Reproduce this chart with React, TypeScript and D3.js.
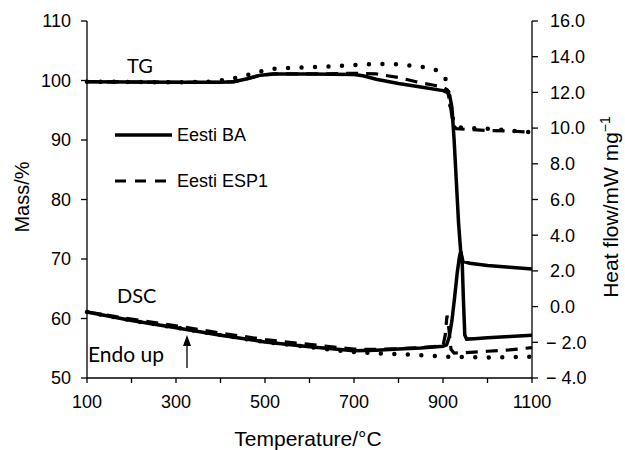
import React from "react";
import * as d3 from "d3";

const width = 625;
const height = 450;

// TG curves (mass %)
const tgBaT = [100, 200, 300, 400, 430, 460, 490, 520, 600, 700, 720, 750, 800, 850, 900, 910, 915, 920, 925, 930, 935, 940, 945, 960, 1000, 1050, 1100];
const tgBa = [99.8, 99.75, 99.7, 99.7, 99.8, 100.3, 100.9, 101.1, 101.1, 101.0, 100.8, 100.2, 99.5, 98.9, 98.3, 98.0, 97.5, 95.5, 90, 83, 76, 71, 69.6, 69.3, 68.9, 68.6, 68.3];

const tgEspT = [100, 200, 300, 400, 430, 460, 490, 520, 600, 700, 750, 800, 850, 880, 900, 910, 915, 920, 925, 930, 950, 1000, 1050, 1100];
const tgEsp = [99.8, 99.75, 99.7, 99.7, 99.8, 100.3, 100.9, 101.1, 101.1, 101.2, 101.1, 100.5, 99.6, 99.2, 98.9, 98.4, 96.5, 94, 92.3, 91.9, 91.8, 91.6, 91.5, 91.3];

const tgDotT = [100, 200, 300, 380, 420, 450, 480, 510, 550, 600, 650, 700, 750, 800, 830, 860, 880, 895, 905, 912, 920, 930, 950, 1000, 1050, 1100];
const tgDot = [99.8, 99.75, 99.7, 99.8, 100.2, 100.7, 101.3, 101.9, 102.1, 102.2, 102.4, 102.6, 102.8, 102.7, 102.5, 102.2, 101.9, 101.3, 100.5, 98, 94, 92.2, 92.0, 91.9, 91.6, 91.3];

// DSC curves (heat flow mW/mg)
const dscBaT = [100, 200, 300, 400, 500, 600, 700, 750, 800, 850, 900, 908, 914, 920, 926, 932, 937, 940, 943, 946, 949, 953, 970, 1000, 1050, 1100];
const dscBa = [-0.3, -0.78, -1.18, -1.6, -1.98, -2.25, -2.47, -2.45, -2.38, -2.32, -2.22, -2.15, -1.7, -0.8, 0.5, 1.9, 2.8, 3.1, 2.6, 0.3, -1.6, -1.82, -1.8, -1.75, -1.68, -1.6];

const dscEspT = [100, 200, 300, 400, 500, 600, 700, 750, 800, 850, 900, 905, 909, 913, 918, 925, 950, 1000, 1050, 1100];
const dscEsp = [-0.3, -0.7, -1.08, -1.48, -1.85, -2.12, -2.38, -2.4, -2.36, -2.3, -2.2, -1.6, -0.5, -1.2, -2.4, -2.6, -2.58, -2.5, -2.42, -2.3];

const dscDotT = [100, 200, 300, 400, 500, 600, 650, 700, 750, 800, 850, 900, 950, 1000, 1050, 1100];
const dscDot = [-0.3, -0.78, -1.18, -1.6, -1.98, -2.27, -2.42, -2.55, -2.62, -2.66, -2.72, -2.8, -2.83, -2.85, -2.83, -2.8];

const xTicks = [100, 200, 300, 400, 500, 600, 700, 800, 900, 1000, 1100];
const xLabels = [100, 300, 500, 700, 900, 1100];
const massTicks = [50, 60, 70, 80, 90, 100, 110];
const heatTicks = [-4, -2, 0, 2, 4, 6, 8, 10, 12, 14, 16];

const x = d3.scaleLinear().domain([100, 1100]).range([87, 532]);
const yL = d3.scaleLinear().domain([50, 110]).range([378, 21]);
const yR = d3.scaleLinear().domain([-4, 16]).range([378, 21]);

const zip = (t: number[], v: number[]) => t.map((d, i) => [d, v[i]] as [number, number]);

const lineL = d3.line<[number, number]>().x((d) => x(d[0])).y((d) => yL(d[1]));
const lineR = d3.line<[number, number]>().x((d) => x(d[0])).y((d) => yR(d[1]));

const solid = { stroke: "#000", strokeWidth: 3.5, fill: "none" };
const dashed = { stroke: "#000", strokeWidth: 3.2, fill: "none", strokeDasharray: "12 8" };
const dotted = { stroke: "#000", strokeWidth: 4.5, fill: "none", strokeDasharray: "0 13.5", strokeLinecap: "round" as const };

const axisFont = "'Liberation Sans', Arial, sans-serif";
const noteFont = "Lato, 'Open Sans', sans-serif";

const fmtR = (d: number) => (d < 0 ? `\u2212 ${Math.abs(d).toFixed(1)}` : d.toFixed(1));

export default function App() {
  return (
    <svg width={width} height={height} style={{ position: "absolute", left: 0, top: 0, background: "#fff" }}>
      {/* curves */}
      <path d={lineL(zip(tgDotT, tgDot)) || ""} {...dotted} />
      <path d={lineL(zip(tgEspT, tgEsp)) || ""} {...dashed} />
      <path d={lineL(zip(tgBaT, tgBa)) || ""} {...solid} />
      <path d={lineR(zip(dscDotT, dscDot)) || ""} {...dotted} />
      <path d={lineR(zip(dscEspT, dscEsp)) || ""} {...dashed} />
      <path d={lineR(zip(dscBaT, dscBa)) || ""} {...solid} />

      {/* axes */}
      <g stroke="#000" strokeWidth={1.3}>
        <line x1={87} x2={87} y1={21} y2={378} />
        <line x1={532} x2={532} y1={21} y2={378} />
        <line x1={87} x2={532} y1={378} y2={378} />
        {massTicks.map((t) => (
          <line key={"m" + t} x1={81} x2={87} y1={yL(t)} y2={yL(t)} />
        ))}
        {heatTicks.map((t) => (
          <line key={"h" + t} x1={532} x2={538} y1={yR(t)} y2={yR(t)} />
        ))}
        {xTicks.map((t) => (
          <line key={"x" + t} x1={x(t)} x2={x(t)} y1={378} y2={383} />
        ))}
      </g>

      <g fontFamily={axisFont} fontSize={18} fill="#000">
        {massTicks.map((t) => (
          <text key={t} x={71} y={yL(t)} dy="0.35em" textAnchor="end">
            {t}
          </text>
        ))}
        {heatTicks.map((t) => (
          <text key={t} x={t < 0 ? 546 : 550} y={yR(t)} dy="0.35em" textAnchor="start">
            {fmtR(t)}
          </text>
        ))}
        {xLabels.map((t) => (
          <text key={t} x={x(t)} y={408} textAnchor="middle">
            {t}
          </text>
        ))}
        <text x={308} y={446} textAnchor="middle" fontSize={21}>
          Temperature/°C
        </text>
        <text transform="translate(29,197) rotate(-90)" textAnchor="middle" fontSize={20}>
          Mass/%
        </text>
        <text transform="translate(618,207) rotate(-90)" textAnchor="middle" fontSize={21}>
          Heat flow/mW mg
          <tspan dy="-8" fontSize={14}>
            −1
          </tspan>
        </text>

        {/* legend */}
        <line x1={115} x2={172} y1={135} y2={135} {...solid} />
        <text x={177} y={135} dy="0.35em">
          Eesti BA
        </text>
        <line x1={115} x2={172} y1={181} y2={181} {...dashed} strokeDasharray="11 9" />
        <text x={177} y={181} dy="0.35em">
          Eesti ESP1
        </text>
      </g>

      {/* annotations */}
      <g fontFamily={noteFont} fontSize={20} fill="#000">
        <text x={127} y={73}>TG</text>
        <text x={117} y={303}>DSC</text>
        <text x={88} y={362} fontSize={21}>Endo up</text>
      </g>
      <line x1={187} x2={187} y1={368} y2={344} stroke="#000" strokeWidth={1.3} />
      <path d="M187,335 L183,346 L191,346 Z" fill="#000" />
    </svg>
  );
}
